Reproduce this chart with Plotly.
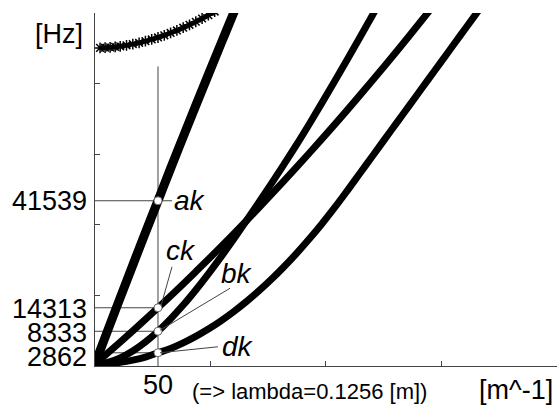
import plotly.graph_objects as go

# ---- data ----
k_ak = [0, 10, 20, 30, 40, 50, 60, 70, 80, 90, 100, 110, 115]
ak = [0, 8465, 16860, 25185, 33440, 41539, 49740, 57785, 65760, 73665, 81500, 89265, 93121]

k_up = [4, 8, 12, 16, 20, 25, 30, 35, 40, 45, 50, 55, 60, 65, 70, 75, 80, 85, 90, 95]
upper = [80417, 80470, 80556, 80678, 80833, 81077, 81372, 81720, 82120, 82571, 83072,
         83623, 84221, 84867, 85559, 86296, 87077, 87901, 88766, 89672]

k_bk = [0, 10, 20, 30, 40, 50, 60, 70, 80, 90, 100, 110, 120, 130, 140, 150, 160, 170,
        180, 190, 200, 210, 220, 230]
bk = [0, 413, 1559, 3321, 5604, 8333, 11500, 15000, 18850, 22950, 27250, 31750, 36400,
      41100, 45900, 50800, 55800, 61002, 66362, 71808, 77339, 82945, 88617, 94355]

k_ck = [0, 10, 20, 30, 40, 50, 60, 70, 80, 90, 100, 110, 120, 130, 140, 150, 160, 170,
        180, 190, 200, 210, 220, 230, 240, 250, 260, 270]
ck = [0, 2765, 5579, 8442, 11353, 14313, 17321, 20378, 23483, 26637, 29840, 33091, 36391,
      39740, 43137, 46583, 50077, 53620, 57211, 60851, 64540, 68277, 72063, 75898, 79781,
      83713, 87693, 91722]

k_dk = [0, 10, 20, 30, 40, 50, 60, 70, 80, 90, 100, 110, 120, 130, 140, 150, 160, 170,
        180, 190, 200, 210, 220, 230, 240, 250, 260, 270, 280, 290, 300, 310]
dk = [0, 110, 440, 990, 1760, 2862, 3960, 5390, 7040, 8910, 11000, 13310, 15840, 18590,
      21560, 24750, 28160, 31790, 35640, 39710, 44000, 48400, 52800, 57200, 61600, 66000,
      70400, 74800, 79200, 83600, 88000, 92400]

k_mark = 50
marked_vals = [41539, 14313, 8333, 2862]
marked_names = ["ak", "ck", "bk", "dk"]
tick_labels = ["41539", "14313", "8333", "2862"]
vline_top = 75700

x_range = [0, 366.7]
y_range = [-500, 89300]

FONT = "Liberation Sans, Arial, sans-serif"
LINE = "#000000"
GRAY = "#444444"

fig = go.Figure()

# thin helper lines (horizontal from axis to k=50, vertical at k=50)
for v in marked_vals:
    fig.add_trace(go.Scatter(x=[0, k_mark], y=[v, v], mode="lines",
                             line=dict(color=GRAY, width=1), hoverinfo="skip"))
fig.add_trace(go.Scatter(x=[k_mark, k_mark], y=[y_range[0], vline_top], mode="lines",
                         line=dict(color=GRAY, width=1), hoverinfo="skip"))

# curves
fig.add_trace(go.Scatter(x=k_up, y=upper, mode="lines+markers", line_shape="spline",
                         line=dict(color=LINE, width=4.5),
                         marker=dict(symbol="asterisk-open", size=9,
                                     line=dict(color=LINE, width=1.5))))
fig.add_trace(go.Scatter(x=k_ak, y=ak, mode="lines", line_shape="spline",
                         line=dict(color=LINE, width=9)))
for kk, vv in [(k_bk, bk), (k_ck, ck), (k_dk, dk)]:
    fig.add_trace(go.Scatter(x=kk, y=vv, mode="lines", line_shape="spline",
                             line=dict(color=LINE, width=7)))

# marked points
fig.add_trace(go.Scatter(x=[k_mark] * len(marked_vals), y=marked_vals, mode="markers",
                         marker=dict(symbol="circle", size=8, color="white",
                                     line=dict(color="#666666", width=1))))

# leader lines (pixel offsets from each marked point)
leaders = {"ak": (4, 14, 0, 0), "ck": (3, 14, 2, 41), "bk": (2, 72, 1, 43),
           "dk": (2, 60, 0, 6)}
for name, v in zip(marked_names, marked_vals):
    x0, x1, y0, y1 = leaders[name]
    fig.add_shape(type="line", xref="x", yref="y", xsizemode="pixel", ysizemode="pixel",
                  xanchor=k_mark, yanchor=v, x0=x0, x1=x1, y0=y0, y1=y1,
                  line=dict(color=GRAY, width=1))

# curve labels
offsets = {"ak": (32, 0), "ck": (23, 57), "bk": (79, 58), "dk": (80, 6)}
for name, v in zip(marked_names, marked_vals):
    dx, dy = offsets[name]
    fig.add_annotation(x=k_mark, y=v, xref="x", yref="y", text=f"<i>{name}</i>",
                       showarrow=False, xanchor="center", yanchor="middle",
                       xshift=dx, yshift=dy, font=dict(family=FONT, size=28, color="black"))

# value labels on the left
lab_shift = {"41539": 0, "14313": -1.5, "8333": -1.5, "2862": -4}
for lab, v in zip(tick_labels, marked_vals):
    fig.add_annotation(x=0, y=v, xref="x", yref="y", text=lab, showarrow=False,
                       xanchor="right", yanchor="middle", xshift=-6, yshift=lab_shift[lab],
                       font=dict(family=FONT, size=27, color="black"))

fig.add_annotation(x=0, y=84080, xref="x", yref="y", text="[Hz]", showarrow=False,
                   xanchor="right", yanchor="middle", xshift=-10,
                   font=dict(family=FONT, size=27, color="black"))
fig.add_annotation(x=k_mark, y=0, xref="x", yref="paper", text="50", showarrow=False,
                   xanchor="center", yanchor="middle", yshift=-18.5,
                   font=dict(family=FONT, size=27, color="black"))
fig.add_annotation(x=170.6, y=0, xref="x", yref="paper", text="(=> lambda=0.1256 [m])",
                   showarrow=False, xanchor="center", yanchor="middle", yshift=-25.5,
                   font=dict(family=FONT, size=22, color="black"))
fig.add_annotation(x=1, y=0, xref="paper", yref="paper", text="[m^-1]", showarrow=False,
                   xanchor="right", yanchor="middle", xshift=-2, yshift=-23.5,
                   font=dict(family=FONT, size=27, color="black"))

fig.update_layout(
    width=557, height=408,
    margin=dict(l=95, r=0, t=13, b=41.5, pad=0, autoexpand=False),
    paper_bgcolor="white", plot_bgcolor="white",
    showlegend=False,
    xaxis=dict(range=x_range, showgrid=False, zeroline=False, showline=True,
               linecolor=GRAY, linewidth=1, ticks="inside", ticklen=5, tickcolor=GRAY,
               tick0=0, dtick=91.67, showticklabels=False, fixedrange=True),
    yaxis=dict(range=y_range, showgrid=False, zeroline=False, showline=True,
               linecolor=GRAY, linewidth=1, ticks="inside", ticklen=5, tickcolor=GRAY,
               tick0=-500, dtick=17960, showticklabels=False, fixedrange=True),
)

fig.write_html("out.html", config={"displayModeBar": False},
               post_script="document.body.style.margin='0';document.body.style.padding='0';")
